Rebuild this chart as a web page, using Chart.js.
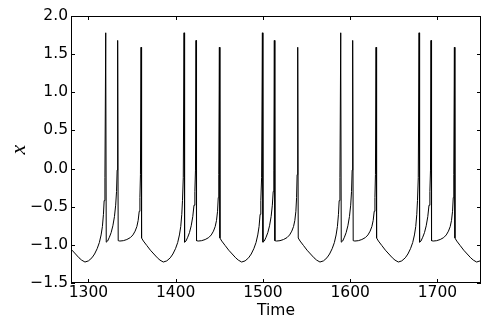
<!DOCTYPE html>
<html>
<head>
<meta charset="utf-8">
<script src="https://cdn.jsdelivr.net/npm/chart.js@4.4.1/dist/chart.umd.min.js"></script>
<style>
  html, body { margin: 0; padding: 0; background: #fff; }
  #wrap { width: 491px; height: 327px; }
</style>
</head>
<body>
<div id="wrap"><canvas id="chart" width="491" height="327"></canvas></div>
<script>
// membrane variable x over time (five bursts of three spikes)
const timeValues = [
  1273.2, 1277.2, 1281.2, 1285.2, 1289.2, 1292.2,
  // burst 1
  1296.0, 1300.0, 1304.0, 1307.0, 1310.0, 1312.5, 1314.5, 1316.0, 1317.2, 1318.0, 1318.9,
  1319.8, 1320.4, 1322.0, 1324.0, 1326.0, 1328.0, 1329.8, 1331.2, 1332.2, 1332.9,
  1333.5, 1334.1, 1336.0, 1340.0, 1344.0, 1348.0, 1351.0, 1353.5, 1355.5, 1357.0, 1358.2, 1359.0, 1359.6,
  1360.3, 1360.9, 1363.0, 1367.0, 1371.0, 1375.0, 1379.0, 1382.0,
  // burst 2
  1385.8, 1389.8, 1393.8, 1396.8, 1399.8, 1402.3, 1404.3, 1405.8, 1407.0, 1407.8, 1408.7,
  1409.6, 1410.2, 1411.8, 1413.8, 1415.8, 1417.8, 1419.6, 1421.0, 1422.0, 1422.7,
  1423.3, 1423.9, 1425.8, 1429.8, 1433.8, 1437.8, 1440.8, 1443.3, 1445.3, 1446.8, 1448.0, 1448.8, 1449.4,
  1450.1, 1450.7, 1452.8, 1456.8, 1460.8, 1464.8, 1468.8, 1471.8,
  // burst 3
  1475.6, 1479.6, 1483.6, 1486.6, 1489.6, 1492.1, 1494.1, 1495.6, 1496.8, 1497.6, 1498.5,
  1499.4, 1500.0, 1501.6, 1503.6, 1505.6, 1507.6, 1509.4, 1510.8, 1511.8, 1512.5,
  1513.1, 1513.7, 1515.6, 1519.6, 1523.6, 1527.6, 1530.6, 1533.1, 1535.1, 1536.6, 1537.8, 1538.6, 1539.2,
  1539.9, 1540.5, 1542.6, 1546.6, 1550.6, 1554.6, 1558.6, 1561.6,
  // burst 4
  1565.4, 1569.4, 1573.4, 1576.4, 1579.4, 1581.9, 1583.9, 1585.4, 1586.6, 1587.4, 1588.3,
  1589.2, 1589.8, 1591.4, 1593.4, 1595.4, 1597.4, 1599.2, 1600.6, 1601.6, 1602.3,
  1602.9, 1603.5, 1605.4, 1609.4, 1613.4, 1617.4, 1620.4, 1622.9, 1624.9, 1626.4, 1627.6, 1628.4, 1629.0,
  1629.7, 1630.3, 1632.4, 1636.4, 1640.4, 1644.4, 1648.4, 1651.4,
  // burst 5
  1655.2, 1659.2, 1663.2, 1666.2, 1669.2, 1671.7, 1673.7, 1675.2, 1676.4, 1677.2, 1678.1,
  1679.0, 1679.6, 1681.2, 1683.2, 1685.2, 1687.2, 1689.0, 1690.4, 1691.4, 1692.1,
  1692.7, 1693.3, 1695.2, 1699.2, 1703.2, 1707.2, 1710.2, 1712.7, 1714.7, 1716.2, 1717.4, 1718.2, 1718.8,
  1719.5, 1720.1, 1722.2, 1726.2, 1730.2, 1734.2, 1738.2, 1741.2,
  1745.0, 1749.0, 1753.0
];
const xValues = [
  -0.95, -1.01, -1.07, -1.12, -1.17, -1.20,
  // burst 1
  -1.225, -1.21, -1.17, -1.12, -1.05, -0.97, -0.87, -0.76, -0.60, -0.42, -0.12,
  1.78, -0.965, -0.95, -0.90, -0.84, -0.75, -0.63, -0.48, -0.30, -0.02,
  1.68, -0.945, -0.95, -0.945, -0.93, -0.905, -0.87, -0.82, -0.76, -0.68, -0.56, -0.38, -0.08,
  1.59, -0.91, -0.95, -1.01, -1.07, -1.12, -1.17, -1.20,
  // burst 2
  -1.225, -1.21, -1.17, -1.12, -1.05, -0.97, -0.87, -0.76, -0.60, -0.42, -0.12,
  1.78, -0.965, -0.95, -0.90, -0.84, -0.75, -0.63, -0.48, -0.30, -0.02,
  1.68, -0.945, -0.95, -0.945, -0.93, -0.905, -0.87, -0.82, -0.76, -0.68, -0.56, -0.38, -0.08,
  1.59, -0.91, -0.95, -1.01, -1.07, -1.12, -1.17, -1.20,
  // burst 3
  -1.225, -1.21, -1.17, -1.12, -1.05, -0.97, -0.87, -0.76, -0.60, -0.42, -0.12,
  1.78, -0.965, -0.95, -0.90, -0.84, -0.75, -0.63, -0.48, -0.30, -0.02,
  1.68, -0.945, -0.95, -0.945, -0.93, -0.905, -0.87, -0.82, -0.76, -0.68, -0.56, -0.38, -0.08,
  1.59, -0.91, -0.95, -1.01, -1.07, -1.12, -1.17, -1.20,
  // burst 4
  -1.225, -1.21, -1.17, -1.12, -1.05, -0.97, -0.87, -0.76, -0.60, -0.42, -0.12,
  1.78, -0.965, -0.95, -0.90, -0.84, -0.75, -0.63, -0.48, -0.30, -0.02,
  1.68, -0.945, -0.95, -0.945, -0.93, -0.905, -0.87, -0.82, -0.76, -0.68, -0.56, -0.38, -0.08,
  1.59, -0.91, -0.95, -1.01, -1.07, -1.12, -1.17, -1.20,
  // burst 5
  -1.225, -1.21, -1.17, -1.12, -1.05, -0.97, -0.87, -0.76, -0.60, -0.42, -0.12,
  1.78, -0.965, -0.95, -0.90, -0.84, -0.75, -0.63, -0.48, -0.30, -0.02,
  1.68, -0.945, -0.95, -0.945, -0.93, -0.905, -0.87, -0.82, -0.76, -0.68, -0.56, -0.38, -0.08,
  1.59, -0.91, -0.95, -1.01, -1.07, -1.12, -1.17, -1.20,
  -1.225, -1.21, -1.17
];
const xTicks = [1300, 1400, 1500, 1600, 1700];
const yTicks = [-1.5, -1.0, -0.5, 0.0, 0.5, 1.0, 1.5, 2.0];

const points = timeValues.map((t, i) => ({ x: t, y: xValues[i] }));

// matplotlib-ish frame with inward ticks on all four sides
const frameTicks = {
  id: 'frameTicks',
  afterDatasetsDraw(chart) {
    const { ctx, chartArea: a, scales } = chart;
    const len = 4;
    ctx.save();
    ctx.strokeStyle = '#000';
    ctx.lineWidth = 1;
    ctx.beginPath();
    scales.x.ticks.forEach(t => {
      const px = Math.round(scales.x.getPixelForValue(t.value)) + 0.5;
      ctx.moveTo(px, a.bottom); ctx.lineTo(px, a.bottom - len);
      ctx.moveTo(px, a.top); ctx.lineTo(px, a.top + len);
    });
    scales.y.ticks.forEach(t => {
      const py = Math.round(scales.y.getPixelForValue(t.value)) + 0.5;
      ctx.moveTo(a.left, py); ctx.lineTo(a.left + len, py);
      ctx.moveTo(a.right, py); ctx.lineTo(a.right - len, py);
    });
    ctx.stroke();
    ctx.strokeRect(a.left + 0.5, a.top + 0.5, a.right - a.left - 1, a.bottom - a.top - 1);
    ctx.restore();
  }
};

Chart.defaults.font.family = "'DejaVu Sans', sans-serif";
Chart.defaults.color = '#000';

new Chart(document.getElementById('chart').getContext('2d'), {
  type: 'line',
  data: {
    datasets: [{
      data: points,
      borderColor: '#000',
      borderWidth: 1,
      pointRadius: 0,
      tension: 0,
      fill: false
    }]
  },
  options: {
    responsive: false,
    animation: false,
    events: [],
    parsing: false,
    normalized: true,
    layout: { padding: { left: 0, right: 10, top: 16, bottom: 0 } },
    plugins: { legend: { display: false }, tooltip: { enabled: false } },
    scales: {
      x: {
        type: 'linear',
        min: 1280,
        max: 1750,
        afterBuildTicks: s => { s.ticks = xTicks.map(v => ({ value: v })); },
        afterFit: s => { s.height = 44; },
        grid: { display: false, drawTicks: false },
        border: { display: false },
        ticks: { padding: 1, font: { size: 15.5 }, maxRotation: 0, callback: v => String(v) },
        title: { display: true, text: 'Time', font: { size: 15.5 }, padding: { top: 0, bottom: 6.4 } }
      },
      y: {
        type: 'linear',
        min: -1.5,
        max: 2.0,
        afterBuildTicks: s => { s.ticks = yTicks.map(v => ({ value: v })); },
        afterFit: s => { s.width = 71; },
        grid: { display: false, drawTicks: false },
        border: { display: false },
        ticks: { padding: 3, font: { size: 15.5 }, callback: v => v.toFixed(1).replace('-', '\u2212') },
        title: {
          display: true, text: 'x',
          font: { family: "'Liberation Serif', serif", style: 'italic', size: 22 },
          padding: { top: 6.1, bottom: 0 }
        }
      }
    }
  },
  plugins: [frameTicks]
});
</script>
</body>
</html>
